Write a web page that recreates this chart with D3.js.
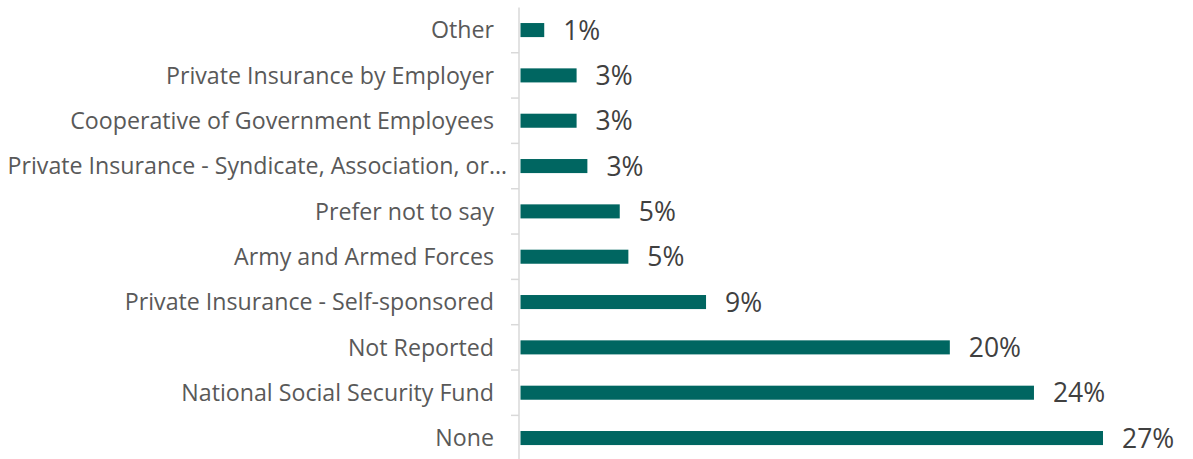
<!DOCTYPE html>
<html>
<head>
<meta charset="utf-8">
<script src="https://cdn.jsdelivr.net/npm/d3@7"></script>
<style>
  html, body { margin: 0; padding: 0; background: #ffffff; }
  svg { display: block; }
</style>
</head>
<body>
<svg id="chart" width="1193" height="459"></svg>
<script>
// Health coverage type, share of respondents (percent)
const categories = [
  "Other",
  "Private Insurance by Employer",
  "Cooperative of Government Employees",
  "Private Insurance - Syndicate, Association, or…",
  "Prefer not to say",
  "Army and Armed Forces",
  "Private Insurance - Self-sponsored",
  "Not Reported",
  "National Social Security Fund",
  "None"
];
const shares = [1.1, 2.6, 2.6, 3.1, 4.6, 5.0, 8.6, 19.9, 23.8, 27.0];

const width = 1193, height = 459;
const axisX = 519;
const svg = d3.select("#chart");

const x = d3.scaleLinear().domain([0, 27]).range([axisX + 1.5, 1103]);
const y = d3.scaleBand().domain(categories).range([7.4, 460.7]).paddingInner(0.69).paddingOuter(0.345);

const fontFamily = "'Open Sans', 'Noto Sans', sans-serif";

// bars
svg.append("g").selectAll("rect")
  .data(categories)
  .join("rect")
  .attr("x", x(0))
  .attr("y", d => y(d))
  .attr("width", (d, i) => x(shares[i]) - x(0))
  .attr("height", y.bandwidth())
  .attr("fill", "#006661");

// value labels
svg.append("g").selectAll("text")
  .data(categories)
  .join("text")
  .attr("x", (d, i) => x(shares[i]) + 19)
  .attr("y", d => y(d) + y.bandwidth() / 2)
  .attr("dy", "0.36em")
  .attr("font-family", fontFamily)
  .attr("font-size", 26.5)
  .attr("fill", "#404040")
  .text((d, i) => Math.round(shares[i]) + "%");

// category axis with tick marks between bands
const bandStep = y.step();
const boundaries = d3.range(1, categories.length).map(i => y.range()[0] + i * bandStep);
const axisG = svg.append("g");
axisG.append("line")
  .attr("x1", axisX).attr("x2", axisX)
  .attr("y1", y.range()[0]).attr("y2", height)
  .attr("stroke", "#d9d9d9").attr("stroke-width", 1.5);
axisG.selectAll("line.tick")
  .data(boundaries)
  .join("line")
  .attr("class", "tick")
  .attr("x1", axisX - 8).attr("x2", axisX)
  .attr("y1", d => d).attr("y2", d => d)
  .attr("stroke", "#d9d9d9").attr("stroke-width", 1.5);

// category labels
axisG.selectAll("text")
  .data(categories)
  .join("text")
  .attr("x", d => d.endsWith("…") ? 507 : 494)
  .attr("y", d => y(d) + y.bandwidth() / 2)
  .attr("dy", "0.36em")
  .attr("text-anchor", "end")
  .attr("font-family", fontFamily)
  .attr("font-size", 23.2)
  .attr("fill", "#595959")
  .text(d => d);
</script>
</body>
</html>
